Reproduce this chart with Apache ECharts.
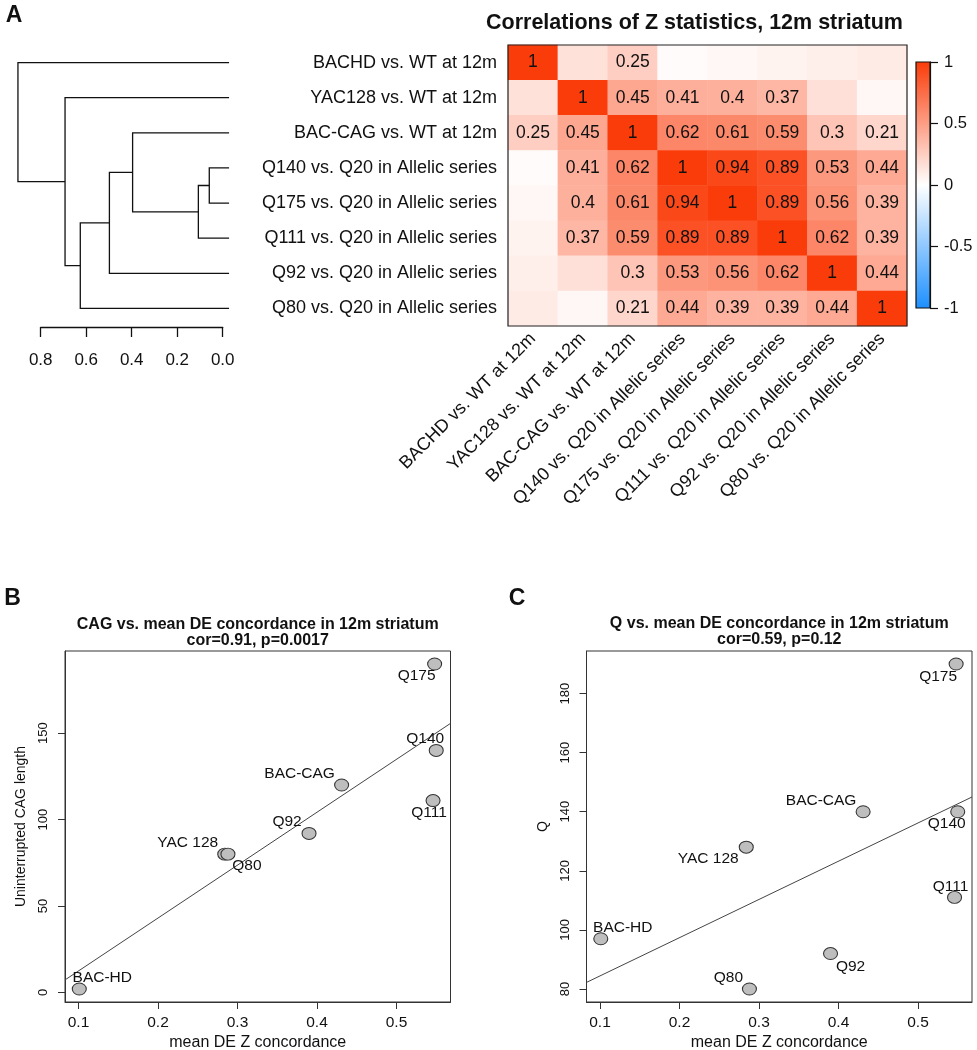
<!DOCTYPE html>
<html><head><meta charset="utf-8">
<script src="https://cdn.jsdelivr.net/npm/echarts@6/dist/echarts.min.js"></script>
<style>html,body{margin:0;padding:0;background:#fff}#c{width:977px;height:1050px}</style>
</head><body><div id="c"></div>
<script>
// ---------------- DATA ----------------
const comparisonLabels = [
  "BACHD vs. WT at 12m",
  "YAC128 vs. WT at 12m",
  "BAC-CAG vs. WT at 12m",
  "Q140 vs. Q20 in Allelic series",
  "Q175 vs. Q20 in Allelic series",
  "Q111 vs. Q20 in Allelic series",
  "Q92 vs. Q20 in Allelic series",
  "Q80 vs. Q20 in Allelic series"
];
const corrMatrix = [
  [1.00, 0.15, 0.25, 0.02, 0.04, 0.06, 0.08, 0.10],
  [0.15, 1.00, 0.45, 0.41, 0.40, 0.37, 0.16, 0.04],
  [0.25, 0.45, 1.00, 0.62, 0.61, 0.59, 0.30, 0.21],
  [0.02, 0.41, 0.62, 1.00, 0.94, 0.89, 0.53, 0.44],
  [0.04, 0.40, 0.61, 0.94, 1.00, 0.89, 0.56, 0.39],
  [0.06, 0.37, 0.59, 0.89, 0.89, 1.00, 0.62, 0.39],
  [0.08, 0.16, 0.30, 0.53, 0.56, 0.62, 1.00, 0.44],
  [0.10, 0.04, 0.21, 0.44, 0.39, 0.39, 0.44, 1.00]
];
const corrLabelThreshold = 0.2;
const colorbarTicks = [-1, -0.5, 0, 0.5, 1];

// dendrogram (R hclust style: negative = leaf (row index+1), positive = earlier merge)
const dendroMerge = [[-4, -5], [1, -6], [-3, 2], [3, -7], [4, -8], [-2, 5], [-1, 6]];
const dendroHeight = [0.059, 0.107, 0.396, 0.498, 0.626, 0.693, 0.900];
const dendroTicks = [0, 0.2, 0.4, 0.6, 0.8];

const strainNames = ["BAC-HD", "YAC 128", "Q80", "Q92", "BAC-CAG", "Q111", "Q140", "Q175"];
const meanDEZ     = [0.101, 0.284, 0.288, 0.390, 0.431, 0.546, 0.550, 0.548];
const cagLength   = [2, 80, 80, 92, 120, 111, 140, 190];
const qLength     = [97, 128, 80, 92, 140, 111, 140, 190];
const concordTicks = [0.1, 0.2, 0.3, 0.4, 0.5];
const cagTicks = [0, 50, 100, 150];
const qTicks = [80, 100, 120, 140, 160, 180];

// ---------------- STYLE ----------------
const FONT = "'Liberation Sans', Arial, Helvetica, sans-serif";
const INK = '#111';
const RED = '#FA3C0A', WHITE = '#FFFFFF', BLUE = '#1E90FF';
const LEAF_END = -0.028;
const labelOffsetB = {"BAC-HD":[23,-11],"YAC 128":[-37,-11],"Q80":[19,12],"Q92":[-22,-12],
  "BAC-CAG":[-42,-11],"Q111":[-4,12],"Q140":[-11,-12],"Q175":[-18,12]};
const labelOffsetC = {"BAC-HD":[22,-11],"YAC 128":[-38,12],"Q80":[-21,-11],"Q92":[20,13],
  "BAC-CAG":[-42,-11],"Q111":[-4,-11],"Q140":[-11,12],"Q175":[-18,13]};

// ---------------- DERIVED ----------------
const nodeY = [];
function childPos(c) {
  if (c < 0) return { y: -c - 1, h: LEAF_END };
  return { y: nodeY[c - 1], h: dendroHeight[c - 1] };
}
const dendroData = dendroMerge.map((m, i) => {
  const a = childPos(m[0]), b = childPos(m[1]);
  nodeY[i] = (a.y + b.y) / 2;
  return [dendroHeight[i], a.y, b.y, a.h, b.h];
});

const heatData = [];
corrMatrix.forEach((row, r) => row.forEach((v, c) => heatData.push([c, r, v])));

function padRange(arr) {
  const lo = Math.min(...arr), hi = Math.max(...arr), p = (hi - lo) * 0.04;
  return [lo - p, hi + p];
}
const xR = padRange(meanDEZ);
const yRB = padRange(cagLength);
const yRC = padRange(qLength);

function fitLine(xs, ys) {
  const n = xs.length;
  const mx = xs.reduce((a, b) => a + b, 0) / n, my = ys.reduce((a, b) => a + b, 0) / n;
  let sxy = 0, sxx = 0;
  for (let i = 0; i < n; i++) { sxy += (xs[i] - mx) * (ys[i] - my); sxx += (xs[i] - mx) ** 2; }
  const b = sxy / sxx, a = my - b * mx;
  return [[xR[0], a + b * xR[0]], [xR[1], a + b * xR[1]]];
}

// ---------------- CHART ----------------
const chart = echarts.init(document.getElementById('c'), null, { renderer: 'canvas' });

const axisTxt = (size) => ({ fontFamily: FONT, fontSize: size, color: INK });

function scatterXAxis(gi) {
  return {
    type: 'value', gridIndex: gi, min: xR[0], max: xR[1],
    splitLine: { show: false },
    axisLine: { show: true, onZero: false, lineStyle: { color: '#333', width: 1 } },
    axisTick: { show: true, length: 7, customValues: concordTicks, lineStyle: { color: '#333', width: 1 } },
    axisLabel: Object.assign({ customValues: concordTicks, margin: 13, formatter: v => v.toFixed(1) }, axisTxt(15.5)),
    name: 'mean DE Z concordance', nameLocation: 'middle', nameGap: 33,
    nameTextStyle: axisTxt(16)
  };
}
function scatterYAxis(gi, range, ticks, name, gap) {
  return {
    type: 'value', gridIndex: gi, min: range[0], max: range[1],
    splitLine: { show: false },
    axisLine: { show: true, onZero: false, lineStyle: { color: '#333', width: 1 } },
    axisTick: { show: true, length: 7, customValues: ticks, lineStyle: { color: '#333', width: 1 } },
    axisLabel: Object.assign({ customValues: ticks, margin: 15, rotate: 90 }, axisTxt(13)),
    name: name, nameLocation: 'middle', nameGap: gap, nameRotate: 90,
    nameTextStyle: axisTxt(14)
  };
}
function scatterSeries(gi, yvals, offsets) {
  return {
    type: 'scatter', xAxisIndex: gi, yAxisIndex: gi, symbol: 'circle', symbolSize: [14, 12], z: 4,
    silent: true,
    itemStyle: { color: '#BEBEBE', borderColor: '#333', borderWidth: 1, opacity: 1 },
    label: { show: true, position: 'inside', formatter: '{b}', fontFamily: FONT, fontSize: 15.5, color: INK },
    data: strainNames.map((n, i) => ({ name: n, value: [meanDEZ[i], yvals[i]], label: { offset: offsets[n] } }))
  };
}
function lineSeries(gi, yvals) {
  return {
    type: 'line', xAxisIndex: gi, yAxisIndex: gi, data: fitLine(meanDEZ, yvals), symbol: 'none',
    silent: true, z: 3, lineStyle: { color: '#444', width: 1 }, clip: true
  };
}

const gridBase = { containLabel: false, outerBoundsMode: 'none' };

const option = {
  animation: false,
  backgroundColor: '#fff',
  textStyle: { fontFamily: FONT },
  grid: [
    Object.assign({ left: 40.7, top: 45, width: 182, height: 281 }, gridBase),
    Object.assign({ left: 508, top: 45, width: 399, height: 281, show: true, borderColor: '#222', borderWidth: 1.2, z: 5, backgroundColor: 'transparent' }, gridBase),
    Object.assign({ left: 916, top: 62, width: 14, height: 246, show: true, borderColor: '#111', borderWidth: 1.2, z: 5, backgroundColor: 'transparent' }, gridBase),
    Object.assign({ left: 65, top: 651, width: 385.5, height: 351, show: true, borderColor: '#333', borderWidth: 1, backgroundColor: 'transparent' }, gridBase),
    Object.assign({ left: 586.5, top: 651, width: 385.5, height: 351, show: true, borderColor: '#333', borderWidth: 1, backgroundColor: 'transparent' }, gridBase)
  ],
  xAxis: [
    { type: 'value', gridIndex: 0, min: 0, max: 0.8, interval: 0.2, inverse: true, offset: 1,
      splitLine: { show: false },
      axisLine: { show: true, onZero: false, lineStyle: { color: INK, width: 1.3 } },
      axisTick: { show: true, length: 10, lineStyle: { color: INK, width: 1.3 } },
      axisLabel: Object.assign({ margin: 25, formatter: v => v.toFixed(1) }, axisTxt(17)) },
    { type: 'category', gridIndex: 1, data: comparisonLabels, position: 'bottom',
      axisLine: { show: false }, axisTick: { show: false }, splitLine: { show: false },
      axisLabel: Object.assign({ rotate: 45, interval: 0, margin: 10 }, axisTxt(18)) },
    { type: 'value', gridIndex: 2, min: 0, max: 1, show: false },
    scatterXAxis(3),
    scatterXAxis(4)
  ],
  yAxis: [
    { type: 'value', gridIndex: 0, min: -0.5, max: 7.5, inverse: true, show: false },
    { type: 'category', gridIndex: 1, data: comparisonLabels, inverse: true,
      axisLine: { show: false }, axisTick: { show: false }, splitLine: { show: false },
      axisLabel: Object.assign({ margin: 11 }, axisTxt(18)) },
    { type: 'value', gridIndex: 2, min: -1, max: 1, interval: 0.5, position: 'right',
      splitLine: { show: false },
      axisLine: { show: true, onZero: false, lineStyle: { color: INK, width: 1.2 } },
      axisTick: { show: true, length: 8, lineStyle: { color: INK, width: 1.2 } },
      axisLabel: Object.assign({ margin: 14 }, axisTxt(16.5)) },
    scatterYAxis(3, yRB, cagTicks, 'Uninterrupted CAG length', 37),
    scatterYAxis(4, yRC, qTicks, 'Q', 36)
  ],
  visualMap: {
    type: 'continuous', show: false, min: -1, max: 1, dimension: 2, seriesIndex: 1,
    inRange: { color: [BLUE, WHITE, RED] }
  },
  series: [
    { type: 'custom', xAxisIndex: 0, yAxisIndex: 0, clip: false, silent: true,
      data: dendroData,
      renderItem: (params, api) => {
        const h = api.value(0), yl = api.value(1), yr = api.value(2), hl = api.value(3), hr = api.value(4);
        const pts = [api.coord([hl, yl]), api.coord([h, yl]), api.coord([h, yr]), api.coord([hr, yr])];
        return { type: 'polyline', shape: { points: pts }, style: { stroke: INK, lineWidth: 1.3, fill: null } };
      } },
    { type: 'heatmap', xAxisIndex: 1, yAxisIndex: 1, data: heatData, silent: true,
      emphasis: { disabled: true },
      label: { show: true, fontFamily: FONT, fontSize: 17.5, color: INK,
        formatter: p => (p.value[2] >= corrLabelThreshold ? String(p.value[2]) : '') } },
    { type: 'custom', xAxisIndex: 2, yAxisIndex: 2, silent: true, data: [[0, 1]],
      renderItem: (params, api) => {
        const tl = api.coord([0, colorbarTicks[colorbarTicks.length - 1]]);
        const br = api.coord([1, colorbarTicks[0]]);
        return { type: 'rect', shape: { x: tl[0], y: tl[1], width: br[0] - tl[0], height: br[1] - tl[1] },
          style: { fill: new echarts.graphic.LinearGradient(0, 0, 0, 1, [
            { offset: 0, color: RED }, { offset: 0.5, color: WHITE }, { offset: 1, color: BLUE }]) } };
      } },
    lineSeries(3, cagLength),
    scatterSeries(3, cagLength, labelOffsetB),
    lineSeries(4, qLength),
    scatterSeries(4, qLength, labelOffsetC)
  ],
  graphic: [
    { type: 'text', x: 14, y: 16, style: { text: 'A', font: 'bold 23px ' + FONT, fill: INK, align: 'center', verticalAlign: 'middle' } },
    { type: 'text', x: 12.5, y: 598.5, style: { text: 'B', font: 'bold 23px ' + FONT, fill: INK, align: 'center', verticalAlign: 'middle' } },
    { type: 'text', x: 517, y: 598.5, style: { text: 'C', font: 'bold 23px ' + FONT, fill: INK, align: 'center', verticalAlign: 'middle' } },
    { type: 'text', x: 694.5, y: 23, style: { text: 'Correlations of Z statistics, 12m striatum', font: 'bold 21.5px ' + FONT, fill: INK, align: 'center', verticalAlign: 'middle' } },
    { type: 'text', x: 257.75, y: 624.3, style: { text: 'CAG vs. mean DE concordance in 12m striatum', font: 'bold 16px ' + FONT, fill: INK, align: 'center', verticalAlign: 'middle' } },
    { type: 'text', x: 257.75, y: 641, style: { text: 'cor=0.91, p=0.0017', font: 'bold 16px ' + FONT, fill: INK, align: 'center', verticalAlign: 'middle' } },
    { type: 'text', x: 779.25, y: 623.3, style: { text: 'Q vs. mean DE concordance in 12m striatum', font: 'bold 16px ' + FONT, fill: INK, align: 'center', verticalAlign: 'middle' } },
    { type: 'text', x: 779.25, y: 639.5, style: { text: 'cor=0.59, p=0.12', font: 'bold 16px ' + FONT, fill: INK, align: 'center', verticalAlign: 'middle' } }
  ]
};
chart.setOption(option);
</script>
</body></html>
